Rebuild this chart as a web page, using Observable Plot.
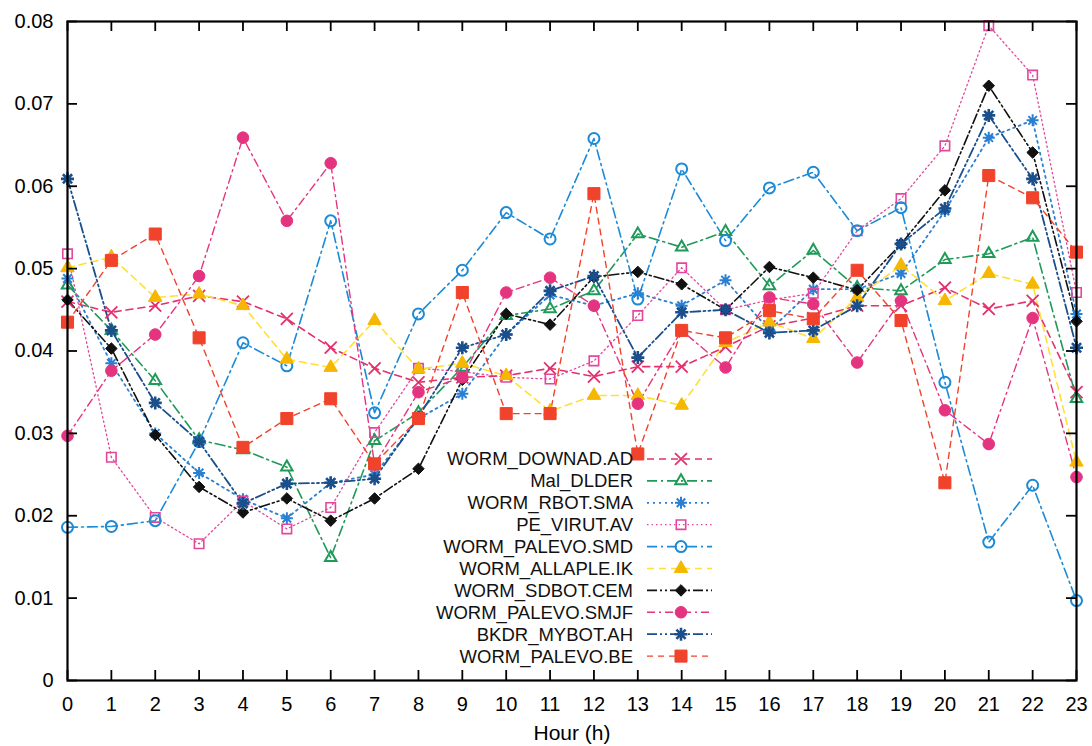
<!DOCTYPE html>
<html><head><meta charset="utf-8">
<script src="https://cdn.jsdelivr.net/npm/d3@7"></script>
<script src="https://cdn.jsdelivr.net/npm/@observablehq/plot@0.6"></script>
<style>
body{margin:0;background:#fff;}
#wrap{position:relative;width:1092px;height:746px;font-family:"Liberation Sans",Arial,Helvetica,sans-serif;}
#legend{position:absolute;left:0;top:0;pointer-events:none;}
</style></head><body><div id="wrap"></div>
<script>
const hours = [0,1,2,3,4,5,6,7,8,9,10,11,12,13,14,15,16,17,18,19,20,21,22,23];
const yTicks = [0,0.01,0.02,0.03,0.04,0.05,0.06,0.07,0.08];
const yTickLabels = ["0","0.01","0.02","0.03","0.04","0.05","0.06","0.07","0.08"];
const xLabel = "Hour (h)";

const seriesNames = ["WORM_DOWNAD.AD","Mal_DLDER","WORM_RBOT.SMA","PE_VIRUT.AV","WORM_PALEVO.SMD","WORM_ALLAPLE.IK","WORM_SDBOT.CEM","WORM_PALEVO.SMJF","BKDR_MYBOT.AH","WORM_PALEVO.BE"];

const downad  = [0.0460,0.0447,0.0455,0.0467,0.0460,0.0439,0.0404,0.0379,0.0362,0.0368,0.0370,0.0379,0.0369,0.0381,0.0381,0.0405,0.0430,0.0440,0.0455,0.0455,0.0477,0.0451,0.0461,0.0350];
const dlder   = [0.0480,0.0425,0.0364,0.0292,0.0280,0.0259,0.0149,0.0291,0.0325,0.0380,0.0443,0.0451,0.0473,0.0542,0.0526,0.0545,0.0479,0.0522,0.0477,0.0473,0.0511,0.0518,0.0538,0.0342];
const rbot    = [0.0488,0.0385,0.0300,0.0252,0.0220,0.0197,0.0240,0.0250,0.0318,0.0348,0.0420,0.0468,0.0455,0.0470,0.0455,0.0486,0.0425,0.0475,0.0475,0.0494,0.0570,0.0659,0.0680,0.0445];
const virut   = [0.0518,0.0271,0.0198,0.0166,0.0218,0.0184,0.0210,0.0301,0.0379,0.0375,0.0368,0.0366,0.0388,0.0443,0.0501,0.0450,0.0462,0.0470,0.0546,0.0585,0.0649,0.0795,0.0735,0.0471];
const smd     = [0.0186,0.0187,0.0194,0.0290,0.0410,0.0382,0.0558,0.0325,0.0445,0.0498,0.0568,0.0536,0.0658,0.0463,0.0621,0.0534,0.0598,0.0617,0.0546,0.0574,0.0362,0.0168,0.0237,0.0097];
const allaple = [0.0501,0.0514,0.0465,0.0469,0.0455,0.0390,0.0380,0.0437,0.0378,0.0385,0.0370,0.0327,0.0346,0.0346,0.0334,0.0410,0.0435,0.0415,0.0465,0.0504,0.0461,0.0494,0.0481,0.0265];
const sdbot   = [0.0462,0.0403,0.0298,0.0235,0.0204,0.0221,0.0194,0.0221,0.0257,0.0365,0.0445,0.0432,0.0490,0.0496,0.0481,0.0450,0.0502,0.0489,0.0474,0.0530,0.0595,0.0722,0.0641,0.0436];
const smjf    = [0.0297,0.0376,0.0420,0.0491,0.0659,0.0558,0.0628,0.0262,0.0350,0.0368,0.0471,0.0489,0.0455,0.0336,0.0425,0.0380,0.0465,0.0457,0.0386,0.0461,0.0328,0.0287,0.0440,0.0247];
const mybot   = [0.0609,0.0425,0.0337,0.0290,0.0215,0.0239,0.0240,0.0245,0.0320,0.0404,0.0420,0.0473,0.0491,0.0392,0.0447,0.0450,0.0422,0.0425,0.0455,0.0530,0.0573,0.0686,0.0609,0.0404];
const be      = [0.0435,0.0510,0.0542,0.0416,0.0283,0.0318,0.0342,0.0263,0.0318,0.0471,0.0324,0.0324,0.0591,0.0275,0.0425,0.0416,0.0449,0.0439,0.0498,0.0437,0.0240,0.0613,0.0586,0.0520];

const seriesValues = [downad, dlder, rbot, virut, smd, allaple, sdbot, smjf, mybot, be];

// eight-armed asterisk like the reference
const star8 = {
  draw(ctx, size) {
    const r = Math.sqrt(size / Math.PI), d = r * Math.SQRT1_2;
    ctx.moveTo(-r, 0); ctx.lineTo(r, 0);
    ctx.moveTo(0, -r); ctx.lineTo(0, r);
    ctx.moveTo(-d, -d); ctx.lineTo(d, d);
    ctx.moveTo(-d, d); ctx.lineTo(d, -d);
  }
};

// styles
const lineColors   = ["#e4306c","#1f9a58","#2b7fd3","#e2479b","#1c8ad6","#ffe033","#111111","#e5347f","#1b4f8c","#f1422b"];
const markColors   = ["#e4306c","#1f9a58","#2b7fd3","#e2479b","#1c8ad6","#f6b700","#111111","#e5347f","#1b4f8c","#f1422b"];
const dashes       = ["7,5","10,4,2,4","2,4","1.5,3","10,4,2,4","7,5","10,3,2,3,2,3","8,4,2,4","10,3,2,3,2,3","6,5"];
const lineWidths   = [1.6,1.6,1.8,1.3,1.6,1.6,1.6,1.4,1.8,1.4];
const symbols      = ["times","triangle2",star8,"square2","circle","triangle","diamond2","circle",star8,"square"];
const filled       = [false,false,false,false,false,true,true,true,false,true];
const radii        = [5.5,5.5,6,6,5.5,5,5.2,5.8,6.5,6.8];
const markStroke   = [1.8,2,2,1.6,2,1,1,1,2.6,1];

const rows = seriesNames.flatMap((name, si) => hours.map((h, i) => ({series: name, si, hour: h, value: seriesValues[si][i]})));

const W = 1092, H = 746, mL = 67, mR = 16, mT = 21, mB = 66;
const tickLenY = 0.08 * 10 / (H - mT - mB);
const tickLenX = 23 * 10 / (W - mL - mR);

const marks = [];
seriesNames.forEach((name, si) => {
  const d = rows.filter(r => r.si === si);
  marks.push(Plot.line(d, {x: "hour", y: "value", stroke: lineColors[si], strokeWidth: lineWidths[si], strokeDasharray: dashes[si]}));
});
seriesNames.forEach((name, si) => {
  const d = rows.filter(r => r.si === si);
  marks.push(Plot.dot(d, {x: "hour", y: "value", symbol: symbols[si], r: radii[si],
    fill: filled[si] ? markColors[si] : "none", stroke: markColors[si], strokeWidth: markStroke[si]}));
});

const chart = Plot.plot({
  width: W, height: H,
  marginLeft: mL, marginRight: mR, marginTop: mT, marginBottom: mB,
  style: {fontFamily: '"Liberation Sans",Arial,Helvetica,sans-serif', background: "white", color: "black", fontSize: "20px"},
  x: {domain: [0, 23]},
  y: {domain: [0, 0.08]},
  marks: [
    ...marks,
    // inward ticks
    Plot.ruleX(hours, {x: d => d, y1: 0, y2: tickLenY, stroke: "black", strokeWidth: 1.8}),
    Plot.ruleX(hours, {x: d => d, y1: 0.08, y2: 0.08 - tickLenY, stroke: "black", strokeWidth: 1.8}),
    Plot.ruleY(yTicks, {y: d => d, x1: 0, x2: tickLenX, stroke: "black", strokeWidth: 1.8}),
    Plot.ruleY(yTicks, {y: d => d, x1: 23, x2: 23 - tickLenX, stroke: "black", strokeWidth: 1.8}),
    Plot.frame({stroke: "black", strokeWidth: 2.2}),
    Plot.axisX({ticks: hours, tickSize: 0, tickPadding: 16, fontSize: 20, label: null, tickFormat: d => String(d)}),
    Plot.axisY({ticks: yTicks, tickSize: 0, tickPadding: 14, fontSize: 20, label: null, tickFormat: d => yTickLabels[yTicks.indexOf(d)]}),
    Plot.text([xLabel], {frameAnchor: "bottom", lineAnchor: "middle", dy: 53, fontSize: 21, text: d => d, fill: "black"})
  ]
});
const wrap = document.getElementById("wrap");
wrap.appendChild(chart);

// legend overlay
const symMap = {times: d3.symbolTimes, triangle2: d3.symbolTriangle2, square2: d3.symbolSquare2,
  circle: d3.symbolCircle, triangle: d3.symbolTriangle, diamond2: d3.symbolDiamond2, square: d3.symbolSquare};
const lg = d3.create("svg").attr("id", "legend").attr("width", W).attr("height", H);
const rowY0 = 459, rowStep = 21.9, textRight = 633, lineX1 = 647, lineX2 = 712, markX = 681;
seriesNames.forEach((name, si) => {
  const y = rowY0 + si * rowStep;
  lg.append("text").attr("x", textRight).attr("y", y).attr("dy", "0.35em").attr("text-anchor", "end")
    .attr("font-size", 18.5).attr("font-family", '"Liberation Sans",Arial,Helvetica,sans-serif').attr("fill", "#111").text(name);
  lg.append("line").attr("x1", lineX1).attr("x2", lineX2).attr("y1", y).attr("y2", y)
    .attr("stroke", lineColors[si]).attr("stroke-width", lineWidths[si]).attr("stroke-dasharray", dashes[si]);
  const sym = typeof symbols[si] === "string" ? symMap[symbols[si]] : symbols[si];
  lg.append("path").attr("transform", `translate(${markX},${y})`)
    .attr("d", d3.symbol(sym, radii[si] * radii[si] * Math.PI)())
    .attr("fill", filled[si] ? markColors[si] : "none").attr("stroke", markColors[si]).attr("stroke-width", markStroke[si]);
});
wrap.appendChild(lg.node());
</script>
</body></html>
